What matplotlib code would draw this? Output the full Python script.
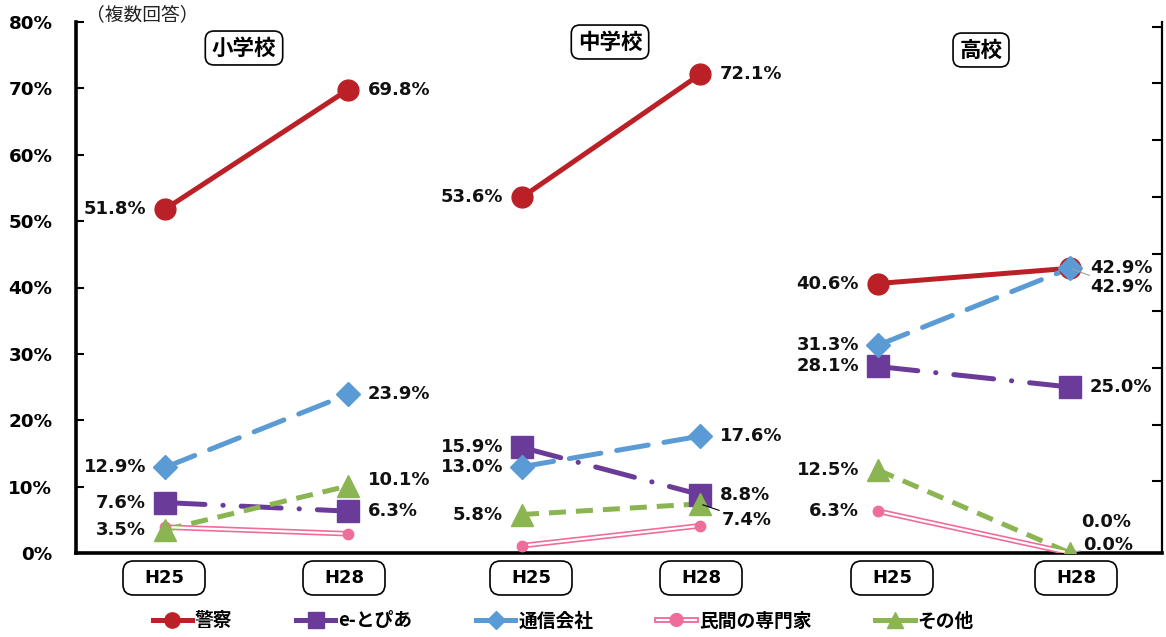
import matplotlib
matplotlib.use('Agg')
import matplotlib.pyplot as plt
from matplotlib.lines import Line2D
from matplotlib.patches import FancyBboxPatch
from matplotlib.font_manager import FontProperties
import matplotlib.patheffects as pe

# ---------------- data ----------------
panels = ['小学校', '中学校', '高校']
years = ['H25', 'H28']
series_names = ['警察', 'e-とぴあ', '通信会社', '民間の専門家', 'その他']
police = [51.8, 69.8, 53.6, 72.1, 40.6, 42.9]
etopia = [7.6, 6.3, 15.9, 8.8, 28.1, 25.0]
telecom = [12.9, 23.9, 13.0, 17.6, 31.3, 42.9]
expert = [3.9, 2.9, 1.1, 4.1, 6.3, 0.0]
other = [3.5, 10.1, 5.8, 7.4, 12.5, 0.0]
yticks = [0, 10, 20, 30, 40, 50, 60, 70, 80]
note = '（複数回答）'

series = [police, etopia, telecom, expert, other]
labelled = [
    [True] * 6,
    [True] * 6,
    [True] * 6,
    [False, False, False, False, True, True],
    [True] * 6,
]

# ---------------- layout ----------------
W, H = 1166, 637
fig = plt.figure(figsize=(W / 100, H / 100), dpi=100)
ax_left, ax_right, ax_bot, ax_top = 76, 1162, 553, 22
ax = fig.add_axes([ax_left / W, 1 - ax_bot / H, (ax_right - ax_left) / W, (ax_bot - ax_top) / H])
ax.set_xlim(ax_left, ax_right)          # x axis measured in layout pixels
ax.set_ylim(0, 80)

point_x = [165, 348, 522, 700, 878, 1070]   # category positions (layout)
box_x = [164, 344, 531, 701, 892, 1076]     # category label boxes (layout)

NUM = FontProperties(family='DejaVu Sans', weight='bold', size=13)
TICK = FontProperties(family='DejaVu Sans', weight='bold', size=13.2)
CJK = ['Noto Sans CJK JP', 'DejaVu Sans']

colors = ['#BA2025', '#6B3B9A', '#5B9BD5', '#F06C9B', '#8BB453']
styles = [
    dict(ls='-', lw=3.6, marker='o', ms=15),
    dict(ls=(0, (8.0, 3.6, 0.05, 3.6)), lw=3.6, marker='s', ms=16, dash_capstyle='round'),
    dict(ls=(0, (6.4, 3.2)), lw=3.6, marker='D', ms=12, dash_capstyle='round'),
    None,
    dict(ls=(0, (3.4, 2.0)), lw=3.6, marker='^', ms=16),
]

for p in range(3):
    xs = point_x[2 * p:2 * p + 2]
    for s, vals in enumerate(series):
        ys = vals[2 * p:2 * p + 2]
        c = colors[s]
        if s == 3:
            ax.plot(xs, ys, color=c, lw=4.0, solid_capstyle='butt', zorder=3)
            ax.plot(xs, ys, color='white', lw=1.6, solid_capstyle='butt', zorder=3.1)
            ax.plot(xs, ys, ls='none', marker='o', ms=7.5, color=c, zorder=3.2)
        else:
            st = styles[s]
            ax.plot(xs, ys, color=c, lw=st['lw'], ls=st['ls'],
                    dash_capstyle=st.get('dash_capstyle', 'butt'), zorder=3)
            ax.plot(xs, ys, ls='none', marker=st['marker'], ms=st['ms'],
                    color=c, mec=c, zorder=3.5)

# value labels
special = {
    (4, 1): (20, 6, None),
    (4, 3): (22, -16, 'black'),
    (2, 5): (20, -19, '#A0A0A0'),
    (3, 5): (11, 31, None),
    (4, 5): (13, 8, '#A0A0A0'),
}
for s, vals in enumerate(series):
    for i, v in enumerate(vals):
        if not labelled[s][i]:
            continue
        j = i % 2
        x = point_x[i]
        if (s, i) in special:
            dx, dy, lc = special[(s, i)]
        else:
            dx, dy, lc = (-19 if j == 0 else 20), 0, None
        ha = 'right' if dx < 0 else 'left'
        kw = {}
        if lc is not None:
            kw['arrowprops'] = dict(arrowstyle='-', color=lc, lw=0.8,
                                    shrinkA=0, shrinkB=2)
        ax.annotate(f'{v:.1f}%', (x, v), xytext=(dx, dy), textcoords='offset pixels',
                    ha=ha, va='center', fontproperties=NUM, color='#111111', zorder=5, **kw)

# axes styling
ax.set_yticks(yticks)
ax.set_yticklabels([f'{t}%' for t in yticks], fontproperties=TICK)
ax.set_xticks([])
ax.tick_params(axis='y', direction='in', length=6, width=1.5, pad=17)
for sp in ['top', 'right']:
    ax.spines[sp].set_visible(False)
ax.spines['left'].set_linewidth(2.6)
ax.spines['bottom'].set_linewidth(2.6)

ax2 = ax.twinx()
ax2.set_ylim(-1.26, 8.08)
ax2.set_yticks(range(9))
ax2.set_yticklabels([])
ax2.tick_params(axis='y', direction='in', length=7, width=1.5)
for sp in ['top', 'left', 'bottom']:
    ax2.spines[sp].set_visible(False)
ax2.spines['right'].set_linewidth(1.6)

# panel titles
title_pos = [(244, 48), (610, 42), (981, 50)]
for name, (px, py) in zip(panels, title_pos):
    fig.text(px / W, 1 - py / H, name, ha='center', va='center',
             family=CJK, weight='bold', fontsize=15.5,
             bbox=dict(boxstyle='round,pad=0.3,rounding_size=0.4', fc='white', ec='black', lw=1.2))

fig.text(86 / W, 1 - 15 / H, note, ha='left', va='center', family=CJK, fontsize=13.5, color='#222222')

# category boxes
bw, bh, by = 82, 34, 578
for i, px in enumerate(box_x):
    x0 = px - bw / 2
    y0 = H - by - bh / 2
    patch = FancyBboxPatch((x0 / W, y0 / H), bw / W, bh / H,
                           boxstyle='round,pad=0,rounding_size=0.009',
                           transform=fig.transFigure, fc='white', ec='black', lw=1.2,
                           mutation_aspect=W / H)
    fig.patches.append(patch)
    fig.text(px / W, 1 - by / H, years[i % 2], ha='center', va='center',
             fontproperties=NUM)

# legend
handles = []
leg_ms = [11, 12, 9, 7, 12]
for s in range(5):
    c = colors[s]
    if s == 3:
        h = Line2D([], [], color='white', lw=1.5, marker='o', ms=6, mfc=c, mec=c,
                   path_effects=[pe.Stroke(linewidth=4.2, foreground=c), pe.Normal()])
    else:
        st = styles[s]
        h = Line2D([], [], color=c, lw=3.6, marker=st['marker'], ms=leg_ms[s], mec=c)
    handles.append(h)
fig.legend(handles, series_names, loc='center', bbox_to_anchor=(0.483, 1 - 621 / H),
           ncol=5, frameon=False, handlelength=2.1, columnspacing=3.4, handletextpad=0.15,
           prop=FontProperties(family=CJK, weight='bold', size=13.5))

fig.savefig('out.png', dpi=100)
